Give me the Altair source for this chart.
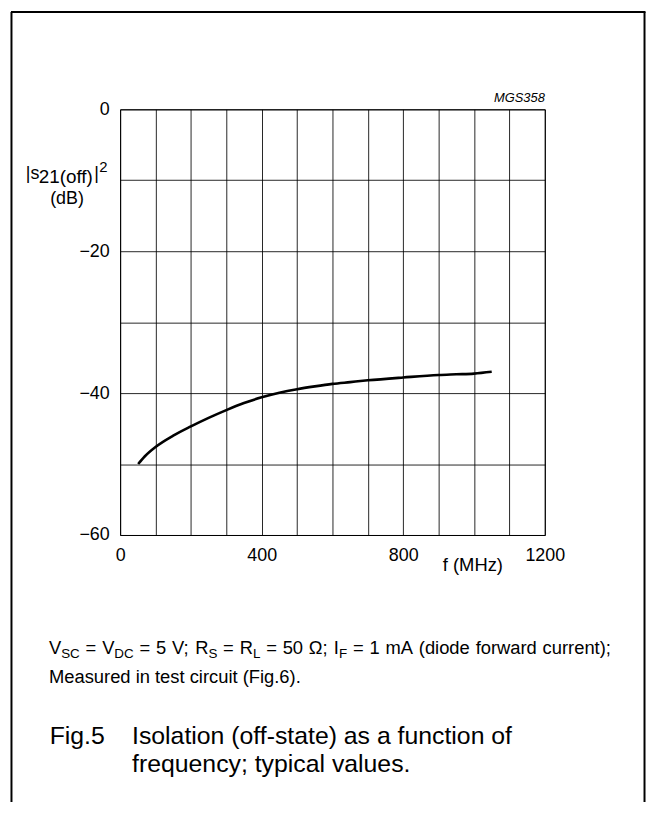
import json
import altair as alt
import pandas as pd

# ---- data ----
freq_mhz = [51, 70, 100, 150, 200, 250, 300, 350, 400, 450, 500, 550, 600, 650, 700, 800, 900, 950, 1000, 1050]
s21_off_db = [-50.0, -48.9, -47.6, -46.0, -44.7, -43.5, -42.4, -41.4, -40.6, -39.95, -39.45,
              -39.05, -38.7, -38.45, -38.2, -37.8, -37.45, -37.35, -37.25, -37.0]
x_grid = list(range(0, 1201, 100))
y_grid = list(range(-60, 1, 10))
x_labels = [0, 400, 800, 1200]
y_labels = [0, -20, -40, -60]

df = pd.DataFrame({"f": freq_mhz, "s21": s21_off_db})
one = pd.DataFrame({"k": [0]})

W, H = 428, 429
PAD = {"left": 113, "top": 99, "right": 103, "bottom": 269}
FONT = "Liberation Sans"


def txt(s, x, y, size, align="left", style="normal"):
    return alt.Chart(one).mark_text(
        text=s, font=FONT, fontSize=size, align=align, baseline="alphabetic",
        fontStyle=style, color="black"
    ).encode(x=alt.value(x), y=alt.value(y))


def rule(x1, y1, x2, y2, w=2):
    return alt.Chart(one).mark_rule(color="black", strokeWidth=w).encode(
        x=alt.value(x1), y=alt.value(y1), x2=alt.value(x2), y2=alt.value(y2)
    )


x_expr = "indexof(%s, datum.value) >= 0 ? datum.label : ''" % json.dumps(x_labels)
y_expr = "indexof(%s, datum.value) >= 0 ? datum.label : ''" % json.dumps(y_labels)

line = alt.Chart(df).mark_line(color="black", strokeWidth=2.6, interpolate="monotone").encode(
    x=alt.X("f:Q", scale=alt.Scale(domain=[0, 1200], nice=False, zero=False),
            axis=alt.Axis(values=x_grid, title=None, format="d", labelExpr=x_expr, labelPadding=12)),
    y=alt.Y("s21:Q", scale=alt.Scale(domain=[-60, 0], nice=False, zero=False),
            axis=alt.Axis(values=y_grid, title=None, format="d", labelExpr=y_expr, labelPadding=11)),
)

# plot-area coordinates: origin at the top-left corner of the grid
ox, oy = 121, 107
CAP1, SUB1 = 655.5 - oy, 659.5 - oy
CAP2 = 685.5 - oy
F = 18.5
S = 13.5

# caption line 1 (justified line): word pieces and their left edges
cap1_main = [("V", 49.3), ("=", 86.2), ("V", 102.9), ("=", 140.5), ("5", 157.2), ("V;", 173.3),
             ("R", 196.6), ("=", 224.8), ("R", 241.5), ("=", 268.2), ("50", 284.8),
             ("\u03a9;", 311.2), ("I", 336.4), ("=", 355.6), ("1", 372.3), ("mA", 388.4),
             ("(diode", 422.0), ("forward", 479.3), ("current);", 546.8)]
cap1_sub = [("SC", 61.6), ("DC", 115.2), ("S", 210.0), ("L", 254.8), ("F", 341.6)]

texts = [
    txt("MGS358", 549 - ox, 100 - oy, 13, align="right", style="italic"),
    # y axis title |s21(off)|^2 (dB)
    txt("|s", 26 - ox, 177 - oy, 18),
    txt("21(off)", 39 - ox, 181 - oy, 19),
    txt("|", 95 - ox, 177 - oy, 18),
    txt("2", 100 - ox, 170 - oy, 15),
    txt("(dB)", 67.5 - ox, 202 - oy, 18, align="center"),
    # x axis title
    txt("f (MHz)", 476.5 - ox, 572 - oy, 18.5, align="center"),
    # caption line 2
    txt("Measured in test circuit (Fig.6).", 49.3 - ox, CAP2, F),
    # figure title
    txt("Fig.5", 50 - ox, 747 - oy, 25),
    txt("Isolation (off-state) as a function of", 133 - ox, 747 - oy, 25),
    txt("frequency; typical values.", 133 - ox, 775 - oy, 25),
]
texts += [txt(s, x - ox, CAP1, F) for s, x in cap1_main]
texts += [txt(s, x - ox, SUB1, S) for s, x in cap1_sub]

bottom = H + PAD["bottom"]
frame = [
    rule(-110, -98, 529.5, -98),
    rule(-109.5, -98, -109.5, bottom),
    rule(528.5, -98, 528.5, bottom),
]

chart = alt.layer(line, *texts, *frame).properties(
    width=W, height=H,
    autosize=alt.AutoSizeParams(type="none"),
    padding=PAD,
    background="white",
).configure_view(
    stroke="black", strokeWidth=1
).configure_axis(
    domain=False, ticks=False, tickSize=0, grid=True, gridColor="black", gridWidth=1,
    gridOpacity=0.85, labelFont=FONT, labelFontSize=18, labelColor="black",
    labelFlush=False, labelOverlap=False, labelBound=False
)

chart.save("out.html", embed_options={"renderer": "svg", "actions": False})
